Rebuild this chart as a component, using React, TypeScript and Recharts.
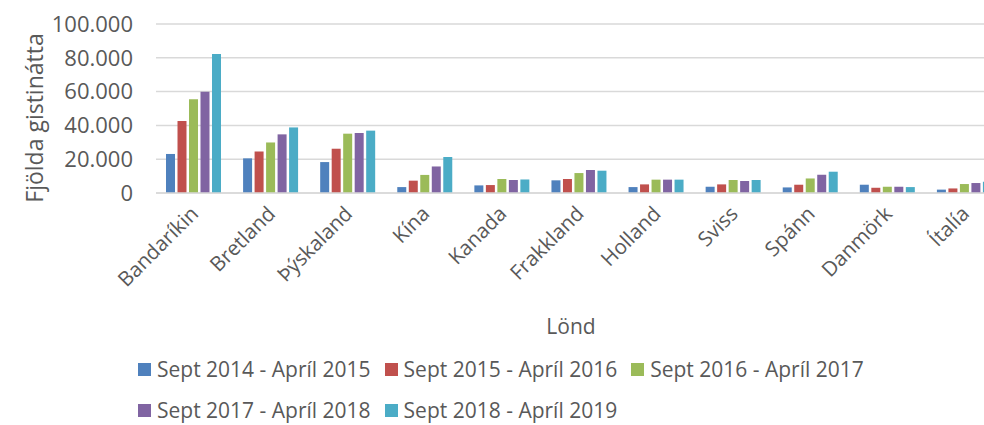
import { BarChart, Bar, XAxis, YAxis, CartesianGrid } from 'recharts';

const countries = ['Bandaríkin', 'Bretland', 'Þýskaland', 'Kína', 'Kanada', 'Frakkland', 'Holland', 'Sviss', 'Spánn', 'Danmörk', 'Ítalía'];
const s2014 = [23100, 20500, 18300, 3500, 4500, 7500, 3500, 3700, 3300, 4900, 2000];
const s2015 = [42600, 24600, 26200, 7300, 4700, 8300, 5100, 5100, 4900, 3100, 2700];
const s2016 = [55400, 29900, 35100, 10700, 8300, 11800, 7900, 7700, 8600, 3700, 5300];
const s2017 = [59900, 34700, 35500, 15700, 7700, 13600, 7900, 7100, 10800, 3700, 5900];
const s2018 = [82200, 38800, 36900, 21300, 8000, 13200, 7900, 7700, 12600, 3500, 6700];
const yTicks = [0, 20000, 40000, 60000, 80000, 100000];

const series = [
  { key: 's2014', name: 'Sept 2014 - Apríl 2015', color: '#4F81BD' },
  { key: 's2015', name: 'Sept 2015 - Apríl 2016', color: '#C0504D' },
  { key: 's2016', name: 'Sept 2016 - Apríl 2017', color: '#9BBB59' },
  { key: 's2017', name: 'Sept 2017 - Apríl 2018', color: '#8064A2' },
  { key: 's2018', name: 'Sept 2018 - Apríl 2019', color: '#4BACC6' },
];

const data = countries.map((land, i) => ({
  land,
  s2014: s2014[i],
  s2015: s2015[i],
  s2016: s2016[i],
  s2017: s2017[i],
  s2018: s2018[i],
}));

const FONT = '"Open Sans", sans-serif';
const TEXT = '#595959';

const fmt = (v: number) => (v === 0 ? '0' : v.toLocaleString('de-DE'));

const CountryTick = (props: any) => {
  const { x, y, payload } = props;
  return (
    <text
      x={x + 5}
      y={y + 14}
      transform={`rotate(-45 ${x + 5} ${y + 14})`}
      textAnchor="end"
      fill={TEXT}
      fontSize={20.5}
      fontFamily={FONT}
    >
      {payload.value}
    </text>
  );
};

export default function App() {
  return (
    <div style={{ position: 'absolute', left: 0, top: 0, width: 984, height: 425, overflow: 'hidden', background: '#fff' }}>
      <BarChart
        width={1004}
        height={425}
        data={data}
        margin={{ top: 24, right: 0, bottom: 0, left: 0 }}
        barCategoryGap={10}
        barGap={2.5}
      >
        <CartesianGrid vertical={false} stroke="#D9D9D9" strokeWidth={1.5} />
        <XAxis
          dataKey="land"
          height={232}
          interval={0}
          tickLine={false}
          axisLine={{ stroke: '#D9D9D9', strokeWidth: 1.5 }}
          tick={<CountryTick />}
          label={{ value: 'Lönd', position: 'insideTop', offset: 126, dx: -9, fill: TEXT, fontSize: 21, fontFamily: FONT }}
        />
        <YAxis
          width={156}
          domain={[0, 100000]}
          ticks={yTicks}
          tickFormatter={fmt}
          tickLine={false}
          axisLine={false}
          tickMargin={17}
          tick={{ fill: TEXT, fontSize: 22, fontFamily: FONT }}
          label={(p: any) => (
            <text
              x={34}
              y={118}
              transform="rotate(-90 34 118)"
              textAnchor="middle"
              dominantBaseline="central"
              fill={TEXT}
              fontSize={23}
              fontFamily={FONT}
            >
              Fjölda gistinátta
            </text>
          )}
        />
        {series.map((s) => (
          <Bar key={s.key} dataKey={s.key} name={s.name} fill={s.color} isAnimationActive={false} />
        ))}
      </BarChart>
      <div
        style={{
          position: 'absolute',
          left: 138,
          top: 349,
          width: 780,
          display: 'flex',
          flexWrap: 'wrap',
          fontFamily: FONT,
          fontSize: 21,
          lineHeight: 1,
          color: TEXT,
        }}
      >
        {series.map((s) => (
          <div key={s.key} style={{ display: 'flex', alignItems: 'center', height: 41, marginRight: 14 }}>
            <span style={{ display: 'inline-block', width: 13, height: 13, background: s.color, marginRight: 6 }} />
            <span>{s.name}</span>
          </div>
        ))}
      </div>
    </div>
  );
}
